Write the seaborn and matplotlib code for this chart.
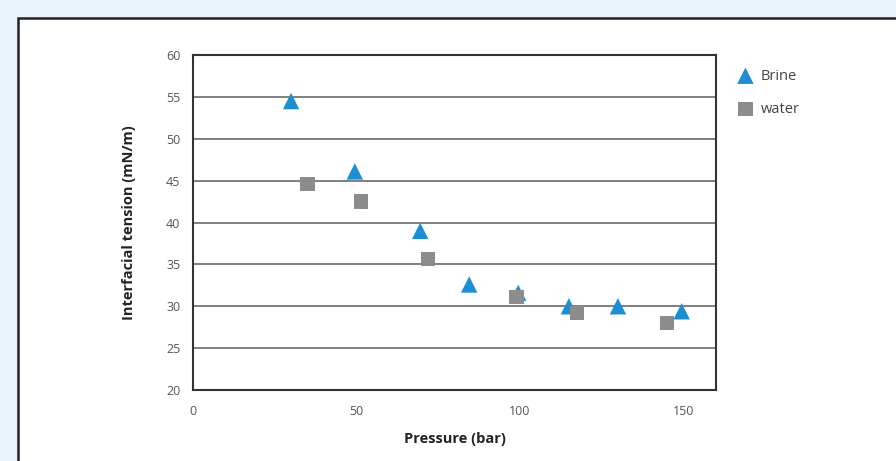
import matplotlib
matplotlib.use("Agg")
import matplotlib.pyplot as plt
import seaborn as sns
import pandas as pd
from matplotlib.patches import Rectangle

brine_pressure = [30, 49.5, 69.5, 84.5, 99.5, 115, 130, 149.5]
brine_ift = [54.5, 46.1, 39.0, 32.6, 31.6, 30.0, 30.0, 29.4]
water_pressure = [35, 51.5, 72, 99, 117.5, 145]
water_ift = [44.6, 42.5, 35.6, 31.1, 29.2, 28.0]
x_ticks = [0, 50, 100, 150]
y_ticks = [20, 25, 30, 35, 40, 45, 50, 55, 60]

df = pd.DataFrame({
    "Pressure": brine_pressure + water_pressure,
    "IFT": brine_ift + water_ift,
    "Fluid": ["Brine"] * len(brine_pressure) + ["water"] * len(water_pressure),
})

sns.set_theme(style="white")
plt.rcParams["font.family"] = ["Open Sans", "DejaVu Sans"]

fig = plt.figure(figsize=(8.96, 4.61), dpi=100)
fig.patch.set_facecolor("#eaf2fb")
fig.patches.append(Rectangle((18 / 896, -0.05), 1.0, 1 - 18 / 461 + 0.05,
                             transform=fig.transFigure, facecolor="white",
                             edgecolor="#222222", linewidth=1.8, zorder=-5))

ax = fig.add_axes([193 / 896, 1 - 390 / 461, (716 - 193) / 896, (390 - 55) / 461])
ax.set_zorder(2)
ax.set_facecolor("white")

colors = {"Brine": "#1b8fd2", "water": "#8c8c8c"}
markers = {"Brine": "^", "water": "s"}
sizes = {"Brine": 140, "water": 105}
for fluid in ["Brine", "water"]:
    sub = df[df["Fluid"] == fluid]
    sns.scatterplot(data=sub, x="Pressure", y="IFT", ax=ax, color=colors[fluid],
                    marker=markers[fluid], s=sizes[fluid], edgecolor="none",
                    label=fluid, zorder=3, legend=True)

ax.set_xlim(0, 160)
ax.set_ylim(20, 60)
ax.set_xticks(x_ticks)
ax.set_yticks(y_ticks)
for y in y_ticks[1:-1]:
    ax.axhline(y, color="#6a6a6a", linewidth=1.2, zorder=1)
for s in ax.spines.values():
    s.set_color("#333333")
    s.set_linewidth(1.5)
ax.tick_params(axis="both", length=0, labelsize=9, labelcolor="#555555")
ax.tick_params(axis="x", pad=11)
ax.tick_params(axis="y", pad=9)
ax.set_xlabel("Pressure (bar)", fontsize=10.5, fontweight="bold", color="#222222", labelpad=10)
ax.set_ylabel("Interfacial tension (mN/m)", fontsize=10.5, fontweight="bold", color="#222222", labelpad=22)

ax.legend(loc="upper left", bbox_to_anchor=(1.02, 0.99), frameon=False,
          fontsize=10.5, handletextpad=0.45, labelspacing=1.25, labelcolor="#444444",
          borderaxespad=0.3, handlelength=1.2)

fig.savefig("out.png", dpi=100, facecolor=fig.get_facecolor())
